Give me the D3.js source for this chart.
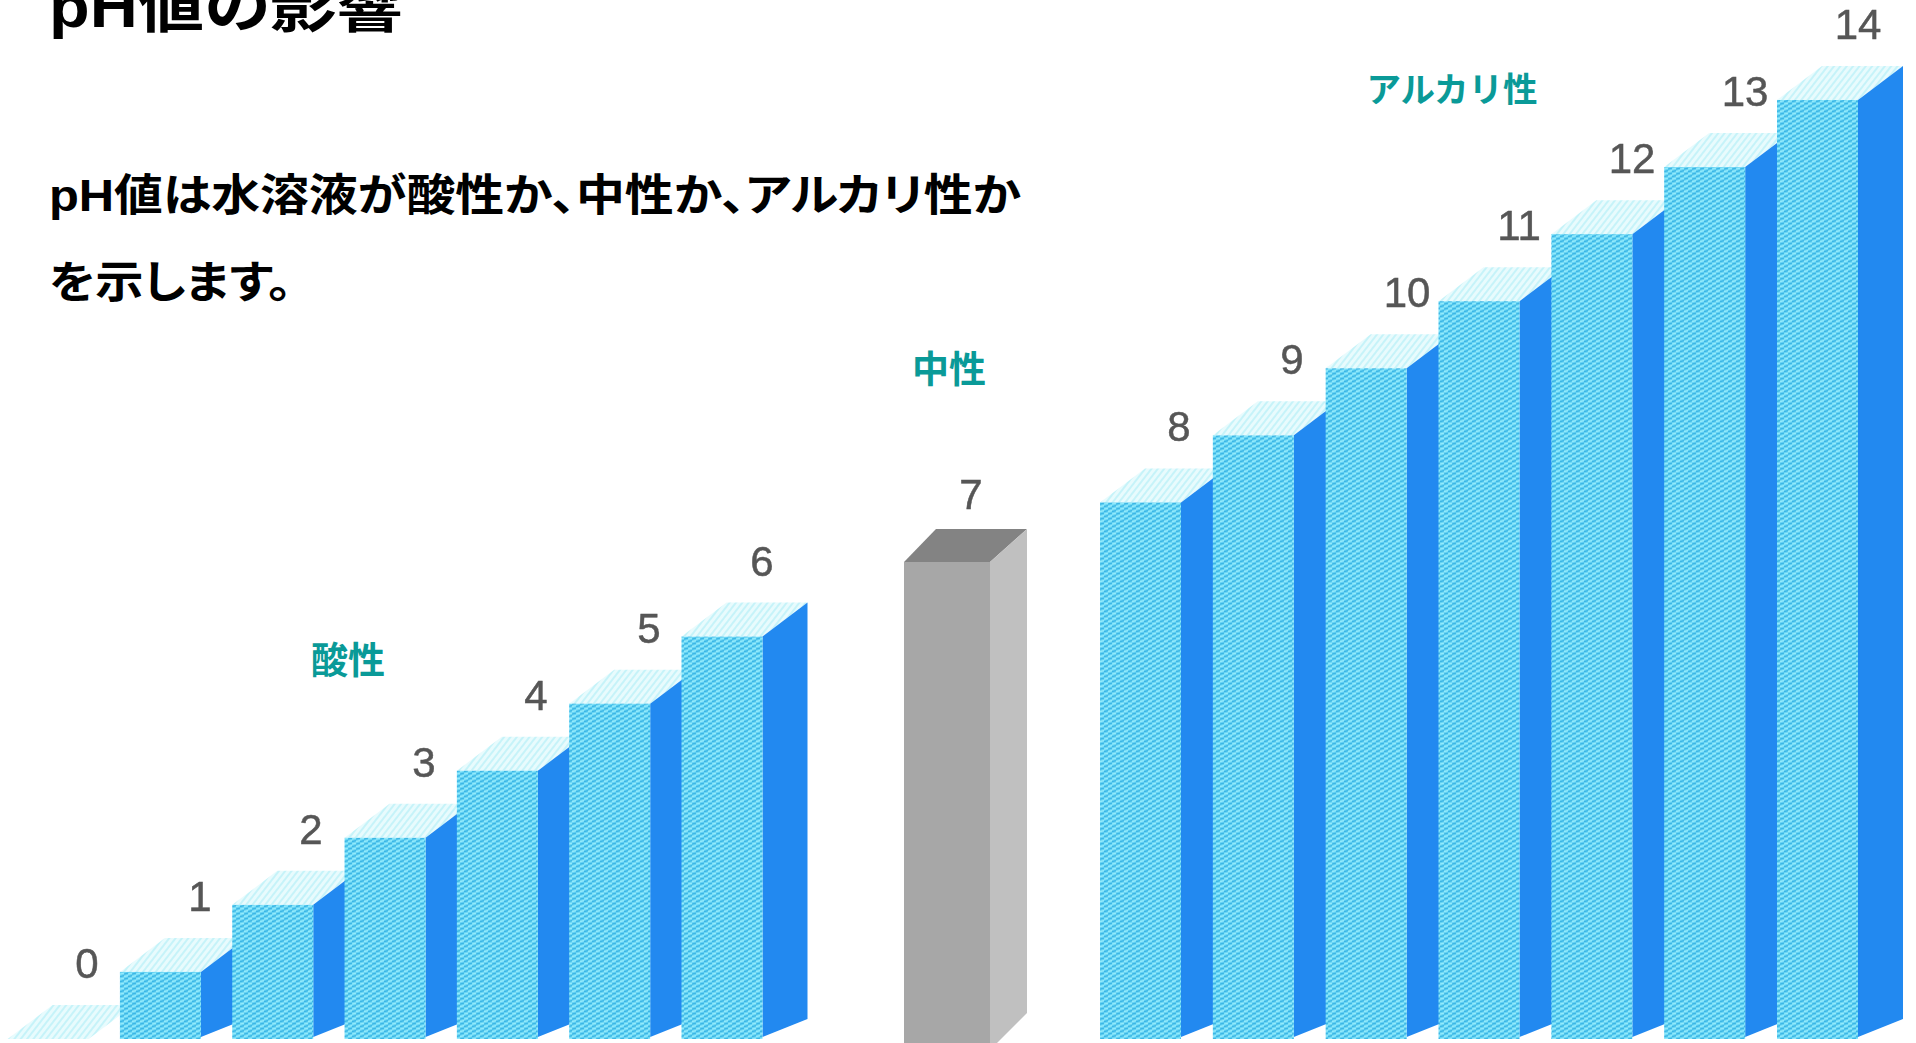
<!DOCTYPE html>
<html lang="ja">
<head>
<meta charset="utf-8">
<script src="https://cdn.jsdelivr.net/npm/d3@7/dist/d3.min.js"></script>
<style>
  html, body { margin: 0; padding: 0; background: #fff; overflow: hidden; }
  svg { display: block; }
  text { font-family: "Noto Sans CJK JP", "Noto Sans", sans-serif; }
  .num { font-family: "Liberation Sans", Roboto, sans-serif; fill: #565656; font-size: 42px; text-anchor: middle; stroke: #565656; stroke-width: 0.5px; }
  .zone { fill: #0a9a98; font-weight: 700; text-anchor: middle; }
  .head { font-family: "Liberation Sans", "Noto Sans CJK JP", sans-serif; fill: #000; font-weight: 700; font-feature-settings: "palt"; }
</style>
</head>
<body>
<svg id="chart" width="1916" height="1043"></svg>
<script>
// pH scale, split into its three groups
const acidValues = [0, 1, 2, 3, 4, 5, 6];
const neutralValues = [7];
const alkaliValues = [8, 9, 10, 11, 12, 13, 14];
const allValues = [...acidValues, ...neutralValues, ...alkaliValues];

const zoneLabels = ["酸性", "中性", "アルカリ性"];
const titleText = "pH値の影響";
const bodyLines = ["pH値は水溶液が酸性か、中性か、アルカリ性か", "を示します。"];

const svg = d3.select("#chart");
const defs = svg.append("defs");

// Woven print texture of the blue columns
const frontTex = defs.append("pattern").attr("id", "frontTex")
  .attr("width", 8).attr("height", 5).attr("patternUnits", "userSpaceOnUse");
frontTex.append("rect").attr("width", 8).attr("height", 5).attr("fill", "#68d4f4");
frontTex.append("path").attr("d", "M0 1.6L4 0.6M4 4.1L8 3.1").attr("stroke", "#3ab6e5").attr("stroke-width", 1.3);
frontTex.append("path").attr("d", "M4 1.6L8 0.6M0 4.1L4 3.1").attr("stroke", "#93ecfc").attr("stroke-width", 1.3);

const topTex = defs.append("pattern").attr("id", "topTex")
  .attr("width", 5).attr("height", 5).attr("patternUnits", "userSpaceOnUse")
  .attr("patternTransform", "rotate(38)");
topTex.append("rect").attr("width", 5).attr("height", 5).attr("fill", "#e8fbfd");
topTex.append("rect").attr("width", 2).attr("height", 5).attr("fill", "#c6f3f9");

const soft = defs.append("filter").attr("id", "soft")
  .attr("x", "-5%").attr("y", "-5%").attr("width", "110%").attr("height", "110%");
soft.append("feGaussianBlur").attr("stdDeviation", 0.7);

// Column height and horizontal placement
const y = d3.scaleLinear().domain([0, 14]).range([1039, 100]);
const xAcid = d3.scaleLinear().domain([0, 6]).range([7.6, 681.5]);
const xAlkali = d3.scaleLinear().domain([8, 14]).range([1100, 1777]);
const barW = 81, depthX = 45, depthY = 34;

// The neutral column is a flat grey block on a slightly lower base
const yNeutral = d3.scaleLinear().domain([0, 7]).range([1050, 562]);
const xNeutral = d3.scaleLinear().domain([7, 8]).range([904, 1100]);
const neutralW = 86, neutralDepth = 37;

const blue = svg.append("g").attr("filter", "url(#soft)");
const poly = d3.line();

function drawColumn(x0, value) {
  const top = y(value), base = y(0), x1 = x0 + barW;
  const g = blue.append("g");
  g.append("path")
    .attr("d", poly([[x0, top], [x1, top], [x1 + depthX, top - depthY], [x0 + depthX, top - depthY]]) + "Z")
    .attr("fill", "url(#topTex)");
  if (value === 0) return;
  g.append("path")
    .attr("d", poly([[x1, top], [x1 + depthX, top - depthY], [x1 + depthX, base - depthY + 14], [x1, base - 2]]) + "Z")
    .attr("fill", "#2389f0");
  g.append("rect").attr("x", x0).attr("y", top)
    .attr("width", barW).attr("height", base - top)
    .attr("fill", "url(#frontTex)");
}

acidValues.forEach(v => drawColumn(xAcid(v), v));
alkaliValues.forEach(v => drawColumn(xAlkali(v), v));

// Neutral column
neutralValues.forEach(v => {
  const x0 = xNeutral(v), x1 = x0 + neutralW, top = yNeutral(v), base = yNeutral(0);
  const g = svg.append("g");
  g.append("path")
    .attr("d", poly([[x0, top], [x1, top], [x1 + neutralDepth, top - 33], [x0 + 32, top - 33]]) + "Z")
    .attr("fill", "#838383");
  g.append("path")
    .attr("d", poly([[x1, top], [x1 + neutralDepth, top - 33], [x1 + neutralDepth, base - neutralDepth], [x1, base]]) + "Z")
    .attr("fill", "#c0c0c0");
  g.append("rect").attr("x", x0).attr("y", top)
    .attr("width", neutralW).attr("height", base - top).attr("fill", "#a7a7a7");
});

// Value labels above each column
const labelX = d3.scaleOrdinal().domain(allValues)
  .range([87, 200, 311, 424, 536, 649, 762, 971, 1179, 1292, 1407, 1519, 1632, 1745, 1858]);
const labelY = v => v === 7 ? 509 : y(v) - 61;

svg.append("g").attr("filter", "url(#soft)")
  .selectAll("text").data(allValues).join("text")
  .attr("class", "num")
  .attr("x", d => labelX(d))
  .attr("y", labelY)
  .text(d => d);

// Zone captions
const zoneX = d3.scaleOrdinal().domain(zoneLabels).range([348, 949, 1452]);
const zoneY = d3.scaleOrdinal().domain(zoneLabels).range([674, 383, 102]);
const zoneSize = d3.scaleOrdinal().domain(zoneLabels).range([37, 37, 34.5]);
svg.append("g").selectAll("text").data(zoneLabels).join("text")
  .attr("class", "zone")
  .attr("x", d => zoneX(d))
  .attr("y", d => zoneY(d))
  .attr("font-size", d => zoneSize(d))
  .text(d => d);

// Heading and explanatory text
svg.append("text").attr("class", "head")
  .attr("x", 49).attr("y", 27).attr("font-size", 60)
  .attr("textLength", 354).attr("lengthAdjust", "spacingAndGlyphs")
  .text(titleText);

const bodyLayout = [{ y: 211, w: 972 }, { y: 298, w: 243 }];
svg.append("g").selectAll("text").data(bodyLines).join("text")
  .attr("class", "head")
  .attr("x", 49)
  .attr("y", (d, i) => bodyLayout[i].y)
  .attr("font-size", 44)
  .attr("textLength", (d, i) => bodyLayout[i].w)
  .attr("lengthAdjust", "spacingAndGlyphs")
  .text(d => d);
</script>
</body>
</html>
